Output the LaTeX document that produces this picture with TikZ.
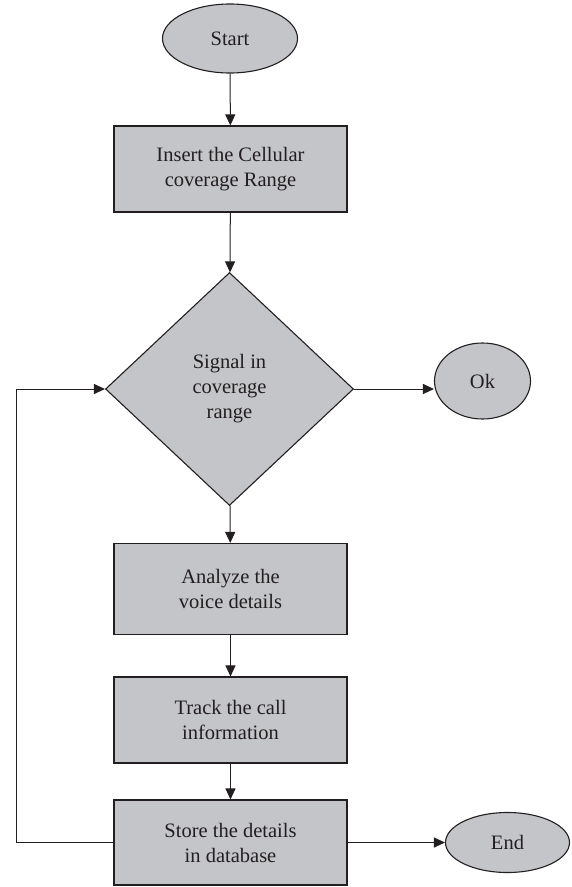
\documentclass[tikz,border=0pt]{standalone}
\usepackage{fontspec}
\setmainfont{Liberation Serif}
\usetikzlibrary{shapes.geometric,arrows.meta}
\definecolor{boxfill}{RGB}{196,197,201}
\definecolor{ink}{RGB}{35,31,32}
\tikzset{
  base/.style={draw=ink, line width=1.1pt, fill=boxfill, text=ink, align=center,
    font=\fontsize{20.5}{25}\selectfont, inner sep=0pt},
  procbox/.style={base, rectangle, minimum width=233pt},
  term/.style={base, ellipse},
  decision/.style={base, diamond, minimum width=248pt, minimum height=233pt},
  arr/.style={draw=ink, line width=1pt, -{Triangle[length=11pt,width=10pt]}},
  plain/.style={draw=ink, line width=1pt}
}
\begin{document}
\begin{tikzpicture}[x=1pt,y=-1pt]
\useasboundingbox (0,0) rectangle (571,887);
\node[term, minimum width=135pt, minimum height=69pt] (start) at (230,38.5) {Start};
\node[procbox, minimum height=86pt] (b1) at (230.5,169) {Insert the Cellular\\coverage Range};
\node[decision] (dia) at (229.5,389) {Signal in\\coverage\\range};
\node[term, minimum width=96pt, minimum height=76pt] (ok) at (482.5,381) {Ok};
\node[procbox, minimum height=91pt] (b2) at (230.5,589) {Analyze the\\voice details};
\node[procbox, minimum height=86pt] (b3) at (230.5,720) {Track the call\\information};
\node[procbox, minimum height=85pt] (b4) at (230.5,842.5) {Store the details\\in database};
\node[term, minimum width=124pt, minimum height=60pt] (end) at (507.5,842.5) {End};
\coordinate (lp) at (16,842.5);
\draw[arr] (start) -- (b1);
\draw[arr] (b1) -- (dia);
\draw[arr] (dia.east) -- (dia.east -| ok.west);
\draw[arr] (dia) -- (b2);
\draw[arr] (b2) -- (b3);
\draw[arr] (b3) -- (b4);
\draw[arr] (b4.east) -- (end.west);
\draw[arr] (b4.west) -- (lp) |- (dia.west);
\end{tikzpicture}
\end{document}
